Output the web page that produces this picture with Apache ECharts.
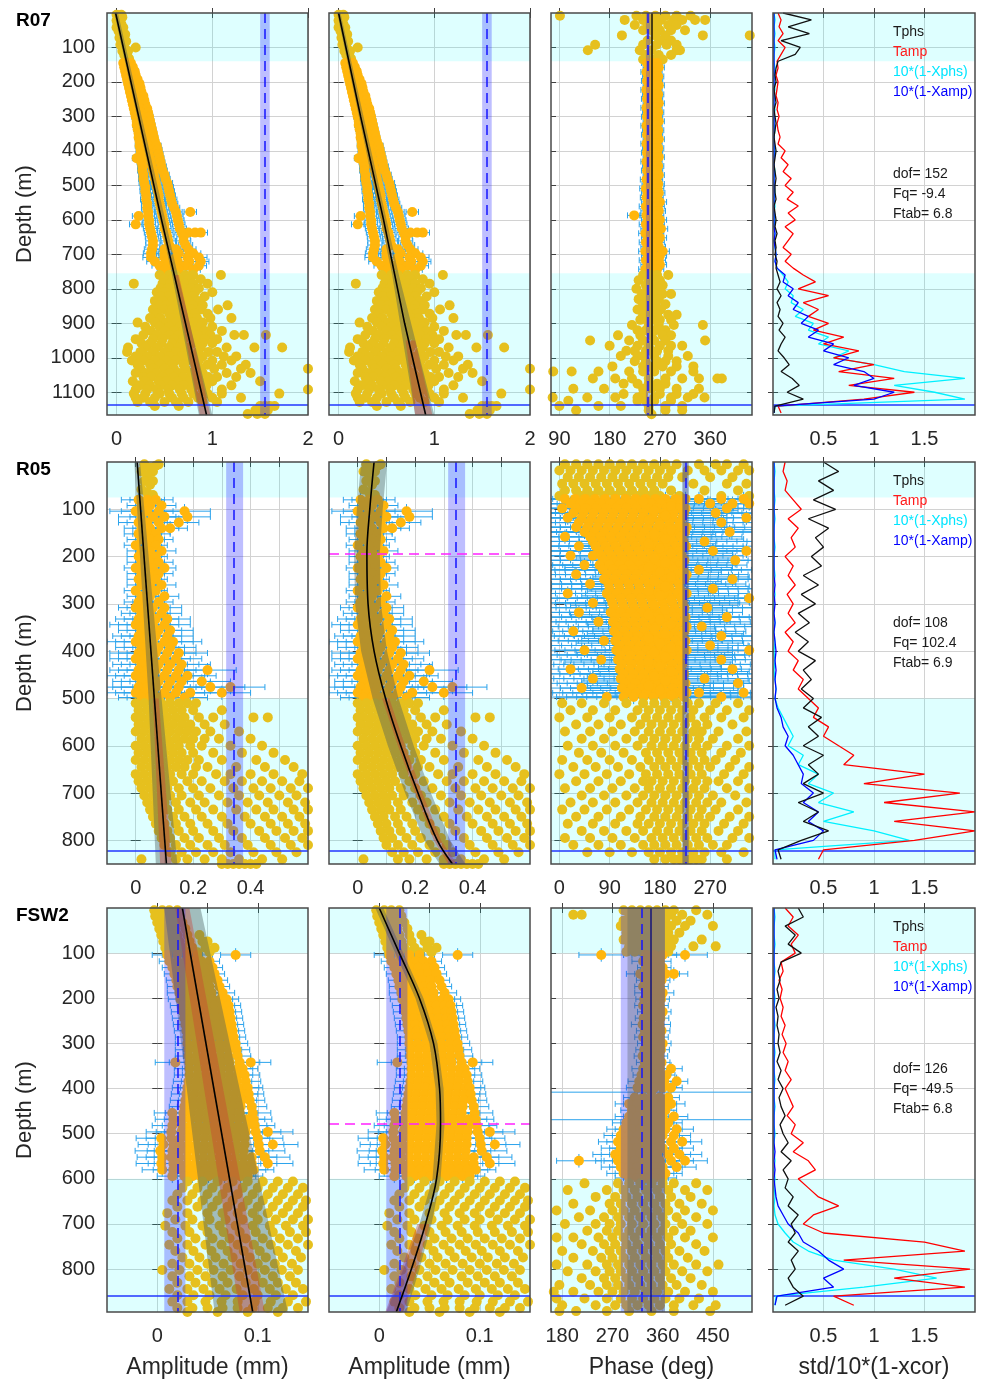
<!DOCTYPE html>
<html><head><meta charset="utf-8">
<script src="https://cdn.jsdelivr.net/npm/echarts@6/dist/echarts.min.js"></script>
<style>html,body{margin:0;padding:0;background:#fff;}#chart{width:981px;height:1381px;}</style>
</head><body><div id="chart"></div>
<script>
// ================= DATA =================
const stations=['R07','R05','FSW2'];
const depthMax=[1166,850,895];
const depthTicks=[[100,200,300,400,500,600,700,800,900,1000,1100],[100,200,300,400,500,600,700,800],[100,200,300,400,500,600,700,800]];
const ampRange=[[-0.1,2],[-0.1,0.6],[-0.05,0.15]];
const ampTicks=[[0,1,2],[0,0.1,0.2,0.3,0.4,0.5],[0,0.05,0.1]];
const ampLabels=[[0,1,2],[0,0.2,0.4],[0,0.1]];
const phsRange=[[75,435],[-15,345],[160,520]];
const phsTicks=[[90,180,270,360],[0,90,180,270],[180,270,360,450]];
const stdRange=[0,2];
const stdTicks=[0.5,1,1.5];
const xNames=['Amplitude (mm)','Amplitude (mm)','Phase (deg)','std/10*(1-xcor)'];
const cyanBands=[[[0,140],[755,1166]],[[0,75],[500,850]],[[0,100],[600,895]]];
const bottomLine=[1135,822,860];
const depthErr=[10,15,15];
const magentaDepth=[null,193,478];
const ampBlueBand=[[1.5,1.6],[0.315,0.374],[0.007,0.028]];
const ampBlueDash=[1.55,0.345,0.017];
const phsBlueBand=[[245,253],[221,231],[285,364]];
const phsGrayBand=[null,[220,232],[297,364]];
const phsDash=[249,226,322];
const phsSolid=[256,null,339];
const legendNames=['Tphs','Tamp','10*(1-Xphs)','10*(1-Xamp)'];
const statText=[['dof= 152','Fq= -9.4','Ftab= 6.8'],['dof= 108','Fq= 102.4','Ftab= 6.9'],['dof= 126','Fq= -49.5','Ftab= 6.8']];

// model fits [amp, depth]
const r07Fit1=[[-0.01,0],[0.23,300],[0.47,600],[0.72,900],[0.94,1166]];
const r07Fit2=[[0.0,0],[0.23,300],[0.47,600],[0.69,900],[0.91,1166]];
const r07Gray1L=[[-0.025,0],[0.58,760],[0.86,1166]], r07Gray1R=[[0.015,0],[0.64,760],[1.0,1166]];
const r07Red1L=[[0.6,760],[0.87,1166]], r07Red1R=[[0.65,760],[0.98,1166]];
const r07Gray2L=[[-0.015,0],[0.56,760],[0.8,1166]], r07Gray2R=[[0.02,0],[0.63,760],[1.0,1166]];
const r07Red2L=[[0.7,950],[0.8,1166]], r07Red2R=[[0.8,950],[0.98,1166]];
const r05Fit1=[[0.005,0],[0.107,850]];
const r05Gray1L=[[-0.005,0],[0.045,500],[0.07,850]], r05Gray1R=[[0.015,0],[0.09,500],[0.145,850]];
const r05Red1L=[[0.06,500],[0.085,850]], r05Red1R=[[0.08,500],[0.125,850]];
const r05Fit2=[[0.057,0],[0.042,100],[0.032,193],[0.036,300],[0.057,400],[0.097,500],[0.15,600],[0.21,700],[0.277,800],[0.33,850]];
const r05Gray2L=[[0.012,0],[-0.003,100],[-0.013,193],[-0.009,300],[0.012,400],[0.052,500],[0.105,600],[0.165,700],[0.232,800],[0.285,850]];
const r05Gray2R=[[0.102,0],[0.087,100],[0.077,193],[0.081,300],[0.102,400],[0.142,500],[0.195,600],[0.255,700],[0.322,800],[0.375,850]];
const r05Red2L=[[0.085,500],[0.14,600],[0.2,700],[0.265,800],[0.315,850]];
const r05Red2R=[[0.11,500],[0.165,600],[0.225,700],[0.29,800],[0.345,850]];
const fswFit1=[[0.025,0],[0.095,895]];
const fswGray1L=[[0.007,0],[0.057,895]], fswGray1R=[[0.043,0],[0.13,895]];
const fswRed1L=[[0.018,0],[0.082,895]], fswRed1R=[[0.032,0],[0.107,895]];
const fswFit2=[[0.0,0],[0.02,100],[0.04,200],[0.054,300],[0.06,400],[0.061,478],[0.057,600],[0.046,700],[0.032,800],[0.017,895]];
const fswGray2L=[[-0.004,0],[0.016,100],[0.036,200],[0.05,300],[0.056,400],[0.057,478],[0.053,600],[0.04,700],[0.024,800],[0.007,895]];
const fswGray2R=[[0.004,0],[0.024,100],[0.044,200],[0.058,300],[0.064,400],[0.065,478],[0.061,600],[0.052,700],[0.04,800],[0.027,895]];
const fswRed2L=[[0.038,700],[0.022,800],[0.006,895]], fswRed2R=[[0.05,700],[0.038,800],[0.024,895]];

// ---- point rows: [depth, value, value, ...]; error rows: [depth, halfwidth, value, ...]
const r07AmpTop=[[5,0.0,0.05],[12,0.02,0.06],[22,0.03,0.0],[32,0.01,0.05],[42,0.0,0.04,0.07],[52,0.02,0.06],[62,0.05,0.09],[72,0.03,0.07],[82,0.06,0.1],[92,0.04,0.08],[100,0.07,0.2],[110,0.06,0.09,0.12],[122,0.08,0.11],[132,0.1,0.13]];
const r07AmpMid=[[145,0.035,0.07,0.11,0.15],[157,0.035,0.08,0.12,0.17],[169,0.035,0.09,0.14,0.19],[181,0.035,0.1,0.15,0.2],[193,0.035,0.11,0.16,0.22],[205,0.035,0.12,0.18,0.24],[217,0.035,0.13,0.19,0.25],[229,0.035,0.14,0.2,0.26],[241,0.035,0.15,0.21,0.28],[253,0.035,0.16,0.22,0.29],[265,0.035,0.17,0.23,0.3],[277,0.035,0.18,0.25,0.32],[289,0.035,0.19,0.26,0.33],[301,0.04,0.2,0.27,0.34],[313,0.04,0.21,0.28,0.35],[325,0.04,0.21,0.28,0.36],[337,0.04,0.22,0.29,0.37],[349,0.04,0.23,0.3,0.38],[361,0.04,0.23,0.31,0.39],[373,0.04,0.24,0.32,0.4],[385,0.045,0.24,0.33,0.42],[397,0.045,0.25,0.34,0.43],[409,0.045,0.25,0.34,0.44],[421,0.045,0.21,0.26,0.35,0.45],[433,0.045,0.26,0.36,0.46],[445,0.05,0.27,0.37,0.47],[457,0.05,0.27,0.38,0.48],[469,0.05,0.28,0.39,0.5],[481,0.05,0.28,0.4,0.51],[493,0.055,0.29,0.41,0.53],[505,0.055,0.3,0.42,0.54],[517,0.055,0.3,0.43,0.55],[529,0.055,0.31,0.44,0.56],[541,0.06,0.31,0.44,0.57],[553,0.06,0.32,0.45,0.58],[565,0.06,0.32,0.46,0.6],[577,0.065,0.33,0.47,0.62,0.77],[589,0.065,0.23,0.33,0.48,0.63],[601,0.065,0.34,0.49,0.64],[613,0.065,0.2,0.34,0.5,0.65],[625,0.07,0.35,0.5,0.66],[637,0.07,0.36,0.52,0.68,0.75,0.82,0.88],[649,0.07,0.37,0.53,0.7],[661,0.075,0.38,0.54,0.7],[673,0.075,0.38,0.55,0.72],[685,0.08,0.37,0.5,0.62,0.75],[697,0.08,0.36,0.5,0.65,0.8],[709,0.085,0.36,0.5,0.62,0.74,0.86],[721,0.085,0.4,0.52,0.64,0.76,0.88],[733,0.08,0.45,0.58,0.72,0.86],[745,0.075,0.5,0.65,0.8]];
const r07AmpBot=[[760,0.45,0.55,0.62,0.72,0.8,1.09],[772,0.5,0.58,0.66,0.75,0.88],[785,0.18,0.48,0.56,0.65,0.72,0.8,0.95],[798,0.46,0.54,0.62,0.7,0.78,0.86],[810,0.42,0.5,0.6,0.68,0.76,0.82,1.0],[822,0.46,0.55,0.64,0.72,0.8,0.92],[835,0.4,0.48,0.58,0.66,0.75,0.85],[848,0.45,0.52,0.62,0.7,0.8,0.9,1.16],[860,0.38,0.5,0.58,0.68,0.78,0.88,1.06],[872,0.42,0.55,0.64,0.72,0.82,0.95],[885,0.35,0.46,0.58,0.66,0.76,0.84,0.98,1.2],[898,0.22,0.4,0.52,0.62,0.72,0.8,0.9],[910,0.3,0.45,0.55,0.66,0.76,0.88,1.0],[922,0.36,0.5,0.6,0.7,0.8,0.92,1.1],[934,0.28,0.42,0.55,0.65,0.75,0.85,0.98,1.23,1.33,1.56],[946,0.2,0.38,0.48,0.6,0.7,0.82,0.92,1.05],[958,0.26,0.35,0.47,0.58,0.68,0.8,0.9,1.0],[970,0.12,0.3,0.42,0.55,0.65,0.75,0.88,1.15,1.44,1.73],[983,0.11,0.25,0.38,0.5,0.62,0.72,0.85,0.96,1.05],[996,0.2,0.32,0.45,0.55,0.68,0.78,0.9,1.12,1.25],[1008,0.16,0.28,0.4,0.52,0.62,0.74,0.86,1.0,1.2],[1020,0.22,0.35,0.46,0.58,0.7,0.82,0.95,1.1,1.35],[1032,0.25,0.38,0.5,0.6,0.72,0.88,1.02,1.3,2.0],[1044,0.2,0.3,0.42,0.55,0.65,0.78,0.9,1.15,1.4],[1056,0.28,0.36,0.48,0.6,0.7,0.82,0.96,1.05,1.25],[1068,0.17,0.3,0.44,0.52,0.64,0.76,0.88,1.0,1.5],[1080,0.24,0.35,0.46,0.58,0.7,0.82,0.94,1.2],[1092,0.2,0.32,0.42,0.54,0.66,0.78,0.9,1.1,2.0],[1104,0.18,0.3,0.45,0.55,0.68,0.8,0.95,1.1,1.7],[1116,0.2,0.28,0.4,0.58,0.7,0.85,1.0,1.3],[1128,0.22,0.35,0.5,0.62,0.75,0.9,1.05],[1140,0.4,0.65,1.5,1.55,1.6,1.65],[1152,1.45,1.52,1.58],[1163,1.37,1.47,1.55]];
const r07PhsTop=[[8,91,228,245,262,280,300,325],[20,207,240,255,272,294,310,333,351],[35,225,248,265,285,300],[50,240,255,270,290,315],[65,202,262,280,347,431],[80,248,270,290],[92,154,240,264,282,300],[108,141,234,255,300,306],[122,245,268,290],[135,240,258,275]];
const r07PhsMid=[[145,10,247,256,265],[158,10,250,259,268],[171,10,246,255,264],[184,10,249,258,267],[197,10,247,256,265],[210,10,250,259,268],[223,10,246,255,264],[236,10,249,258,267],[249,10,247,256,265],[262,10,250,259,268],[275,10,246,255,264],[288,10,249,258,267],[301,10,247,256,265],[314,10,250,259,268],[327,10,246,255,264],[340,10,249,258,267],[353,10,247,256,265],[366,10,250,259,268],[379,10,246,255,264],[392,10,249,258,267],[405,10,247,256,265],[418,10,250,259,268],[431,10,246,255,264],[444,10,249,258,267],[457,10,247,256,265],[470,10,250,259,268],[483,11,246,255,264],[496,11,249,258,267],[509,11,245,255,266],[522,11,248,258,268],[535,11,246,256,265],[548,12,249,259,270],[561,12,245,255,266],[574,12,248,258,268],[587,12,224,246,256,265],[600,12,249,259,270],[613,12,245,255,266],[626,12,248,258,272],[639,12,244,256,265],[652,12,249,259,270],[665,12,245,255,266],[678,12,248,258,268],[691,12,244,256,275],[704,12,249,259,270],[717,12,245,255,268],[730,12,248,258,270],[743,12,244,256,265]];
const r07PhsBot=[[760,240,255,265,285],[775,250,262,270,232],[790,245,262,275],[800,228,255,268,248],[815,238,250,260,275,290],[830,245,255,268,232],[845,248,262,280,240],[860,230,245,258,272],[875,240,252,265,285,300],[890,235,255,270,290,248],[905,220,250,268,295,347],[920,230,245,262,280,270],[935,195,235,255,275,290],[950,145,215,240,260,280,351],[965,180,230,250,270,290,310],[980,210,225,245,255,265,285],[995,200,240,260,285,320,230],[1010,225,245,265,300,280],[1025,185,240,250,260,275,300,330],[1040,79,112,160,215,240,260,290,330],[1060,150,190,220,250,280,310,340,373,381],[1075,205,230,250,265,280],[1090,115,170,240,255,270,300,340],[1105,205,240,270,300,330],[1115,78,140,190,230,260,290,320,350],[1125,106,230,245,260,290],[1140,90,160,200,250,280,310],[1152,120,250,280,310],[1164,255]];

const r05AmpTop=[[5,0.03,0.08],[12,0.05],[8,0.07],[20,0.02,0.06],[28,0.04],[40,0.03,0.06],[48,0.05],[58,0.02],[65,0.04],[70,0.06]];
const r05AmpMid=[[80,0.06,0.01,0.04,0.07],[92,0.05,0.02,0.05,0.09],[104,0.09,0.0,0.04,0.08,0.17],[116,0.08,0.02,0.06,0.1,0.18],[128,0.07,0.01,0.04,0.08,0.15],[140,0.06,0.02,0.05,0.09,0.12],[152,0.05,0.01,0.04,0.07],[164,0.05,0.02,0.05,0.08],[176,0.04,0.0,0.04,0.07],[188,0.05,0.02,0.05,0.09],[200,0.04,0.01,0.04,0.07],[212,0.05,0.02,0.05,0.08],[224,0.04,0.0,0.03,0.06,0.1],[236,0.05,0.02,0.05,0.08],[248,0.04,0.01,0.04,0.07],[260,0.05,0.02,0.05,0.09],[272,0.04,0.0,0.04,0.07],[284,0.05,0.02,0.05,0.1],[296,0.05,0.01,0.04,0.08],[308,0.06,0.0,0.03,0.06,0.1],[320,0.07,0.02,0.05,0.09],[332,0.08,0.01,0.04,0.07,0.11],[344,0.09,0.0,0.03,0.06,0.1],[356,0.08,0.02,0.05,0.08,0.12],[368,0.09,0.01,0.04,0.07,0.11],[380,0.1,0.0,0.03,0.06,0.1,0.13],[392,0.09,0.02,0.05,0.08,0.12],[404,0.1,0.01,0.04,0.07,0.11,0.15],[416,0.09,0.0,0.03,0.06,0.1,0.14],[428,0.1,0.02,0.05,0.08,0.12,0.16],[440,0.1,0.01,0.04,0.07,0.11,0.15,0.25],[452,0.1,0.0,0.03,0.06,0.1,0.14,0.18],[464,0.1,0.02,0.05,0.08,0.12,0.16,0.23],[476,0.12,0.01,0.04,0.07,0.11,0.15,0.26,0.33],[488,0.1,0.0,0.03,0.06,0.1,0.14,0.19,0.3],[498,0.08,0.02,0.05,0.08,0.12,0.17]];
const r05AmpBot=[[510,0.0,0.03,0.06,0.09,0.12,0.15,0.18,0.21],[525,0.01,0.04,0.07,0.1,0.13,0.16,0.2,0.3],[540,0.0,0.02,0.05,0.08,0.11,0.14,0.17,0.22,0.27,0.41,0.46],[555,0.01,0.04,0.07,0.1,0.13,0.16,0.19,0.24,0.31],[570,0.0,0.03,0.06,0.09,0.12,0.15,0.18,0.21,0.26,0.36],[585,0.02,0.05,0.08,0.11,0.14,0.17,0.2,0.24,0.29,0.4],[600,0.0,0.03,0.06,0.09,0.12,0.15,0.19,0.23,0.33,0.44],[615,0.01,0.04,0.07,0.1,0.13,0.16,0.2,0.27,0.37,0.48],[630,0.0,0.03,0.06,0.09,0.12,0.15,0.18,0.22,0.3,0.42,0.52],[645,0.02,0.05,0.08,0.11,0.14,0.17,0.21,0.25,0.35,0.45,0.55],[660,0.0,0.03,0.06,0.09,0.12,0.16,0.2,0.28,0.33,0.4,0.48,0.58],[675,0.01,0.04,0.07,0.1,0.13,0.18,0.23,0.31,0.37,0.44,0.51,0.57],[690,0.02,0.05,0.08,0.11,0.15,0.2,0.26,0.34,0.41,0.47,0.54,0.6],[705,0.03,0.06,0.09,0.12,0.16,0.22,0.29,0.36,0.43,0.5,0.56],[720,0.04,0.07,0.1,0.14,0.19,0.24,0.32,0.39,0.46,0.53,0.59],[735,0.05,0.08,0.11,0.15,0.21,0.27,0.35,0.42,0.48,0.55,0.6],[750,0.06,0.09,0.13,0.17,0.23,0.3,0.38,0.45,0.51,0.57],[765,0.07,0.1,0.14,0.19,0.25,0.32,0.4,0.47,0.53,0.59],[780,0.08,0.11,0.15,0.2,0.27,0.34,0.43,0.49,0.55,0.6],[795,0.09,0.12,0.17,0.22,0.29,0.37,0.45,0.52,0.58],[810,0.1,0.14,0.19,0.25,0.31,0.39,0.47,0.54,0.6],[825,0.12,0.16,0.21,0.27,0.33,0.41,0.49,0.56],[840,0.02,0.14,0.18,0.24,0.3,0.36,0.44,0.51],[850,0.3,0.32,0.34,0.36,0.38,0.4,0.42]];
const r05PhsTop=[[5,10,30,50,70,90,110,130,150,170,190,210,250,280,300,330],[18,0,20,40,60,80,100,120,140,160,180,200,230,260,290,320,340],[32,15,35,55,75,95,115,135,155,175,195,220,270,310],[46,5,25,45,65,85,105,125,145,165,185,240,300,335],[60,10,30,50,70,90,110,130,150,170,200,260,320],[72,0,40,60,80,100,120,140,160,180,215,290,340]];
const r05PhsMid=[[78,130,10,28,46,64,82,100,118,136,154,172,190,208,226,250,290,330],[88,150,20,38,56,74,92,110,128,146,164,182,200,218,270,310,340],[98,120,5,30,48,66,84,102,120,138,156,174,192,210,226,300],[108,140,25,43,61,79,97,115,133,151,169,187,205,223,280],[118,110,15,40,58,76,94,112,130,148,166,184,202,220,335],[128,150,35,53,71,89,107,125,143,161,179,197,215,290],[138,120,30,50,68,86,104,122,140,158,176,194,212,228],[148,140,45,63,81,99,117,135,153,171,189,207,225,305],[158,110,10,55,73,91,109,127,145,163,181,199,217],[168,150,60,78,96,114,132,150,168,186,204,222,260],[178,120,35,65,83,101,119,137,155,173,191,209,227],[188,140,70,88,106,124,142,160,178,196,214,275,335],[198,110,20,60,75,93,111,129,147,165,183,201,219],[208,150,80,98,116,134,152,170,188,206,224,315],[218,120,45,72,90,108,126,144,162,180,198,216],[228,140,78,96,114,132,150,168,186,204,222,250],[238,110,30,85,103,121,139,157,175,193,211,228],[248,150,80,98,116,134,152,170,188,206,224,310],[258,120,55,88,106,124,142,160,178,196,214],[268,140,90,108,126,144,162,180,198,216,275],[278,110,15,85,103,121,139,157,175,193,211,228],[288,150,92,110,128,146,164,182,200,218,340],[298,120,60,95,113,131,149,167,185,203,221],[308,140,98,116,134,152,170,188,206,224,265],[318,110,35,92,110,128,146,164,182,200,218],[328,150,100,118,136,154,172,190,208,226,300],[338,120,70,96,114,132,150,168,186,204,222],[348,140,102,120,138,156,174,192,210,228,255],[358,110,25,98,116,134,152,170,188,206,224],[368,150,105,123,141,159,177,195,213,290],[378,120,80,100,118,136,154,172,190,208,226],[388,140,108,126,144,162,180,198,216,270],[398,110,45,102,120,138,156,174,192,210,228,340],[408,150,110,128,146,164,182,200,218],[418,120,75,105,123,141,159,177,195,213,290],[428,140,112,130,148,166,184,202,220],[438,110,20,108,126,144,162,180,198,216,310],[448,150,115,133,151,169,187,205,223],[458,120,60,110,128,146,164,182,200,218,260],[468,140,118,136,154,172,190,208,226,320],[478,110,40,112,130,148,166,184,202,220],[488,150,120,138,156,174,192,210,228,250,330],[497,120,85,115,133,151,169,187,205,223,290],[83,140,150],[93,120,200],[103,150,170],[113,110,190],[123,140,160],[133,120,180],[143,150,200],[153,110,170],[163,140,190],[173,120,160],[183,150,180],[193,110,200],[203,140,170],[213,120,190],[223,150,160],[233,110,180],[243,140,200],[253,120,170],[263,150,190],[273,110,160],[283,140,180],[293,120,200],[303,150,170],[313,110,190],[323,140,160],[333,120,180],[343,150,200],[353,110,170],[363,140,190],[373,120,160],[383,150,180],[393,110,200],[403,140,170],[413,120,190],[423,150,160],[433,110,180],[443,140,200],[453,120,170],[463,150,190],[473,110,160],[483,140,180],[493,120,200]];
const r05PhsBot=[[510,5,40,80,120,150,170,190,210,230,250,280,320],[525,20,60,100,140,160,180,200,220,240,270,300,340],[540,0,50,90,130,155,175,195,215,235,260,290,330],[555,30,70,110,145,165,185,205,225,245,265,310],[570,10,55,95,135,160,180,200,220,240,255,285,335],[585,40,80,120,150,170,190,210,230,250,275,320],[600,15,60,100,140,165,185,205,225,245,265,300,340],[615,35,75,115,155,175,195,215,235,255,290,325],[630,5,50,90,130,160,180,200,220,240,260,280,315],[645,25,65,105,145,170,190,210,230,250,270,305,340],[660,0,45,85,125,155,175,195,215,235,255,295,330],[675,30,70,110,150,165,185,205,225,245,265,285,320],[690,10,55,95,135,160,180,200,220,240,260,300,340],[705,40,80,120,150,170,190,210,230,250,275,315],[720,20,60,100,140,165,185,205,225,245,265,290,335],[735,5,45,85,125,155,175,195,215,235,255,280,320],[750,30,70,110,145,170,190,210,230,250,270,305,340],[765,15,60,100,140,160,180,200,220,240,260,295,330],[780,40,80,120,150,175,195,215,235,255,285,320],[795,10,55,95,135,165,185,205,225,245,265,310,340],[810,25,70,110,150,170,190,210,230,250,275,300],[825,50,90,130,160,180,200,220,240,260,290,330],[840,170,190,205,215,225,235,245,255,300]];

const fswAmpTop=[[5,-0.003,0.005,0.012,0.02],[18,-0.002,0.006,0.014,0.022],[32,0.0,0.008,0.016,0.025],[46,0.002,0.01,0.018,0.028],[60,0.004,0.012,0.02,0.03,0.042],[74,0.006,0.014,0.022,0.032,0.045,0.05],[88,0.008,0.016,0.025,0.035,0.048,0.057],[98,0.01,0.02,0.03,0.04,0.052]];
const fswAmpMid=[[104,0.015,0.01,0.02,0.03,0.04,0.078],[118,0.01,0.012,0.02,0.028,0.036,0.044,0.052],[132,0.01,0.015,0.023,0.031,0.039,0.047,0.055],[146,0.01,0.017,0.025,0.033,0.041,0.049,0.057],[160,0.01,0.019,0.027,0.035,0.043,0.051,0.06],[174,0.01,0.02,0.028,0.036,0.044,0.052,0.062],[188,0.012,0.022,0.03,0.038,0.046,0.054,0.065],[202,0.012,0.023,0.031,0.039,0.047,0.055,0.063,0.069],[216,0.012,0.025,0.033,0.041,0.049,0.057,0.065,0.071],[230,0.012,0.026,0.034,0.042,0.05,0.058,0.066,0.072],[244,0.012,0.027,0.035,0.043,0.051,0.059,0.067,0.073],[258,0.012,0.028,0.036,0.044,0.052,0.06,0.068,0.074],[272,0.012,0.029,0.037,0.045,0.053,0.061,0.069,0.075],[286,0.012,0.03,0.038,0.046,0.054,0.062,0.07,0.076],[300,0.012,0.03,0.038,0.046,0.054,0.062,0.07,0.078],[314,0.013,0.031,0.039,0.047,0.055,0.063,0.071,0.079],[328,0.013,0.031,0.039,0.047,0.055,0.063,0.071,0.08],[342,0.02,0.018,0.032,0.04,0.048,0.056,0.064,0.072,0.082,0.093],[356,0.015,0.032,0.04,0.048,0.056,0.064,0.072,0.08,0.085],[370,0.015,0.032,0.04,0.048,0.056,0.064,0.072,0.08,0.087],[384,0.015,0.031,0.039,0.047,0.055,0.063,0.071,0.079,0.088],[398,0.015,0.03,0.038,0.046,0.054,0.062,0.07,0.078,0.086,0.09],[412,0.015,0.029,0.037,0.045,0.053,0.061,0.069,0.077,0.085,0.091],[426,0.015,0.028,0.036,0.044,0.052,0.06,0.068,0.076,0.084,0.092],[440,0.015,0.027,0.035,0.043,0.051,0.059,0.067,0.075,0.083,0.094],[454,0.018,0.015,0.026,0.034,0.042,0.05,0.058,0.066,0.074,0.082,0.095],[468,0.018,0.016,0.025,0.033,0.041,0.049,0.057,0.065,0.073,0.081,0.089,0.096],[482,0.02,0.015,0.025,0.033,0.041,0.049,0.057,0.065,0.073,0.081,0.089,0.097],[496,0.025,0.014,0.024,0.032,0.04,0.048,0.056,0.064,0.072,0.08,0.088,0.098,0.11],[510,0.025,0.004,0.014,0.023,0.031,0.039,0.047,0.055,0.063,0.071,0.079,0.087,0.1],[524,0.025,0.006,0.016,0.023,0.031,0.039,0.047,0.055,0.063,0.071,0.079,0.087,0.101,0.115],[538,0.025,0.003,0.015,0.022,0.03,0.038,0.046,0.054,0.062,0.07,0.078,0.086,0.102],[552,0.025,0.005,0.014,0.022,0.03,0.038,0.046,0.054,0.062,0.07,0.078,0.086,0.094,0.107],[566,0.025,0.004,0.016,0.022,0.03,0.038,0.046,0.054,0.062,0.07,0.078,0.086,0.094,0.11],[580,0.02,0.005,0.016,0.024,0.032,0.04,0.048,0.056,0.064,0.072,0.08,0.088,0.096],[594,0.015,0.015,0.027,0.035,0.043,0.051,0.059,0.067,0.075,0.083,0.09]];
const fswAmpBot=[[606,0.03,0.045,0.06,0.075,0.09,0.105,0.12,0.135],[620,0.025,0.04,0.055,0.07,0.085,0.1,0.115,0.13,0.145],[634,0.02,0.035,0.05,0.065,0.08,0.095,0.11,0.125,0.14],[648,0.015,0.03,0.045,0.06,0.075,0.09,0.105,0.12,0.135,0.148],[662,0.02,0.04,0.055,0.07,0.085,0.1,0.115,0.13,0.145],[676,0.01,0.03,0.05,0.065,0.08,0.095,0.11,0.125,0.14],[690,0.018,0.035,0.052,0.068,0.085,0.1,0.118,0.135,0.15],[704,0.008,0.028,0.045,0.062,0.078,0.095,0.112,0.128,0.145],[718,0.015,0.032,0.05,0.066,0.082,0.098,0.115,0.132,0.148],[732,0.02,0.038,0.055,0.072,0.088,0.105,0.122,0.14],[746,0.012,0.03,0.048,0.064,0.08,0.096,0.113,0.13,0.15],[760,0.018,0.036,0.054,0.07,0.086,0.102,0.12,0.138],[774,0.025,0.042,0.058,0.075,0.092,0.108,0.125,0.143],[788,0.015,0.032,0.05,0.066,0.083,0.1,0.117,0.134],[802,0.005,0.022,0.04,0.056,0.073,0.09,0.107,0.124,0.14],[816,0.015,0.032,0.048,0.065,0.082,0.098,0.115,0.132],[830,0.02,0.038,0.055,0.07,0.088,0.105,0.12,0.138],[844,0.012,0.03,0.046,0.062,0.079,0.096,0.112,0.128,0.145],[858,0.02,0.036,0.052,0.068,0.085,0.1,0.118,0.135],[872,0.015,0.03,0.048,0.064,0.08,0.097,0.113,0.13,0.148],[886,0.02,0.035,0.05,0.065,0.08,0.095,0.11,0.125,0.14],[895,0.03,0.06,0.09,0.12]];
const fswPhsTop=[[5,290,305,320,335,350,365,380,420],[15,200,215,300,315,330,345,360,375,395,440],[28,290,305,320,335,350,365,385,410],[40,285,300,315,330,345,360,375,400,450],[55,295,310,325,340,355,370,390],[70,290,305,320,335,350,365,380,430],[85,300,315,330,345,360,375,415,455],[97,295,310,325,340,355,370]];
const fswPhsMid=[[104,40,250,330,345,360,400],[118,20,325,340,355],[132,15,330,345,360],[146,25,320,335,350,365,380],[160,15,328,343,358],[174,15,325,340,355],[188,20,330,345,360],[202,15,327,342,357],[216,15,325,340,355],[230,15,330,345,360],[244,15,326,341,356],[258,20,324,339,354],[272,15,328,343,358],[286,15,325,340,355],[300,15,330,345,360],[314,15,327,342,357],[328,15,324,339,354],[342,15,328,343,358],[356,20,325,340,355,375],[370,15,322,337,352,367],[384,20,318,333,348,363,385],[398,20,315,330,345,360,375],[408,200,340],[420,20,310,325,340,355,370],[434,25,300,315,330,345,360,375],[448,20,305,320,335,350,365],[462,25,300,315,330,345,360,380],[469,200,330],[476,25,295,310,325,340,355,370],[490,30,290,305,320,335,350,365,385],[504,30,285,300,315,330,345,360,380],[518,35,280,295,310,325,340,355,375,395],[532,35,285,300,315,330,345,360,380],[546,40,275,290,305,320,335,350,370,390],[560,40,210,280,295,310,325,340,355,375,400],[574,35,285,300,315,330,345,360,385],[588,30,290,305,320,335,350,365],[598,25,300,315,330,345,360]];
const fswPhsBot=[[610,220,280,300,320,340,360,380,420],[625,190,260,290,310,330,350,370,400,440],[640,240,275,295,315,335,355,375,410],[655,200,265,285,305,325,345,365,390,430],[670,170,230,270,290,310,330,350,370,400,450],[685,210,255,280,300,320,340,360,385,420],[700,185,240,265,285,305,325,345,365,395,440],[715,225,260,280,300,320,340,360,380,410],[730,170,200,245,270,290,310,330,350,370,400,450],[745,215,255,275,295,315,335,355,375,420],[760,180,235,265,285,305,325,345,365,390,435],[775,200,250,270,290,310,330,350,370,405],[790,170,225,260,280,300,320,340,360,380,420,460],[805,190,240,265,285,305,325,345,365,395,440],[820,215,255,275,295,315,335,355,375,410],[835,175,230,260,280,300,320,340,360,385,430],[850,165,200,245,270,290,310,330,350,370,400,450],[865,170,220,260,285,305,325,345,365,390,425],[880,180,240,275,295,315,335,355,380,415,455],[893,175,205,260,300,340,380,445]];

// std / 10*(1-xcor) profiles
const r07Depth=[0,20,40,60,80,100,120,140,160,180,200,220,240,260,280,300,320,340,360,380,400,420,440,460,480,500,520,540,560,580,600,620,640,660,680,700,720,740,760,780,800,820,840,860,880,900,920,940,960,980,1000,1020,1040,1060,1080,1100,1120,1140,1160];
const r07Tphs=[0.1,0.38,0.15,0.36,0.08,0.27,0.22,0.05,0.03,0.02,0.03,0.01,0.02,0.03,0.01,0.02,0.03,0.02,0.01,0.02,0.03,0.02,0.01,0.02,0.03,0.02,0.02,0.03,0.01,0.02,0.03,0.02,0.04,0.02,0.03,0.02,0.04,0.03,0.05,0.07,0.04,0.08,0.04,0.07,0.05,0.1,0.06,0.12,0.08,0.05,0.11,0.16,0.08,0.19,0.26,0.14,0.3,0.02,0.01];
const r07Tamp=[0.05,0.08,0.06,0.1,0.05,0.12,0.08,0.04,0.05,0.03,0.05,0.04,0.03,0.05,0.04,0.06,0.04,0.05,0.07,0.05,0.12,0.08,0.15,0.1,0.18,0.12,0.2,0.14,0.25,0.15,0.22,0.12,0.2,0.15,0.1,0.18,0.12,0.2,0.3,0.42,0.25,0.55,0.3,0.45,0.35,0.55,0.4,0.7,0.5,0.85,0.6,1.0,0.65,1.2,0.75,1.4,0.9,0.05,0.08];
const r07Xphs=[0.01,0.02,0.01,0.02,0.01,0.02,0.01,0.01,0.02,0.01,0.01,0.02,0.01,0.01,0.02,0.01,0.01,0.02,0.01,0.01,0.02,0.01,0.01,0.02,0.01,0.01,0.02,0.01,0.02,0.01,0.02,0.01,0.02,0.01,0.02,0.03,0.02,0.04,0.1,0.15,0.12,0.2,0.18,0.3,0.22,0.4,0.35,0.55,0.45,0.75,0.6,1.0,1.3,1.9,1.2,1.6,1.9,0.02,0.01];
const r07Xamp=[0.01,0.01,0.01,0.01,0.01,0.01,0.01,0.01,0.01,0.01,0.01,0.01,0.01,0.01,0.01,0.01,0.01,0.01,0.01,0.01,0.01,0.01,0.01,0.01,0.01,0.01,0.01,0.01,0.01,0.01,0.01,0.01,0.02,0.01,0.02,0.03,0.02,0.04,0.12,0.1,0.2,0.15,0.25,0.2,0.35,0.28,0.45,0.35,0.6,0.5,0.75,0.6,0.9,1.0,0.8,1.2,1.0,0.01,0.01];
const r05Depth=[0,20,40,60,80,100,120,140,160,180,200,220,240,260,280,300,320,340,360,380,400,420,440,460,480,500,520,540,560,580,600,620,640,660,680,700,720,740,760,780,800,820,840];
const r05Tphs=[0.5,0.65,0.45,0.6,0.4,0.62,0.35,0.55,0.42,0.5,0.38,0.48,0.3,0.45,0.28,0.42,0.25,0.36,0.22,0.35,0.25,0.42,0.3,0.38,0.28,0.4,0.3,0.48,0.35,0.45,0.3,0.5,0.35,0.45,0.3,0.5,0.25,0.45,0.3,0.55,0.28,0.05,0.08];
const r05Tamp=[0.12,0.1,0.14,0.12,0.2,0.28,0.15,0.25,0.18,0.22,0.12,0.2,0.15,0.22,0.14,0.2,0.15,0.22,0.12,0.2,0.15,0.25,0.2,0.3,0.25,0.35,0.45,0.4,0.55,0.5,0.65,0.8,0.7,1.5,0.9,1.85,1.1,2.0,1.2,2.0,1.4,0.5,0.45];
const r05Xphs=[0.01,0.02,0.01,0.01,0.02,0.01,0.02,0.01,0.01,0.02,0.01,0.01,0.02,0.01,0.02,0.01,0.01,0.02,0.01,0.02,0.01,0.02,0.01,0.02,0.03,0.02,0.05,0.1,0.15,0.2,0.15,0.3,0.25,0.45,0.35,0.6,0.45,0.8,0.5,1.0,1.35,0.02,0.02];
const r05Xamp=[0.01,0.01,0.01,0.01,0.01,0.01,0.01,0.01,0.01,0.01,0.01,0.01,0.01,0.02,0.01,0.02,0.01,0.02,0.01,0.02,0.03,0.02,0.03,0.02,0.03,0.02,0.04,0.08,0.1,0.15,0.12,0.2,0.25,0.3,0.28,0.4,0.3,0.45,0.35,0.5,0.4,0.02,0.04];
const fswDepth=[0,20,40,60,80,100,120,140,160,180,200,220,240,260,280,300,320,340,360,380,400,420,440,460,480,500,520,540,560,580,600,620,640,660,680,700,720,740,760,780,800,820,840,860,880];
const fswTphs=[0.25,0.3,0.12,0.22,0.15,0.28,0.08,0.05,0.07,0.04,0.06,0.03,0.05,0.04,0.06,0.05,0.07,0.04,0.08,0.05,0.1,0.06,0.08,0.12,0.07,0.1,0.15,0.08,0.18,0.1,0.15,0.12,0.2,0.15,0.25,0.18,0.22,0.15,0.25,0.18,0.22,0.15,0.2,0.3,0.12];
const fswTamp=[0.12,0.2,0.15,0.25,0.18,0.22,0.08,0.1,0.06,0.09,0.07,0.1,0.08,0.12,0.09,0.13,0.1,0.15,0.12,0.18,0.12,0.16,0.2,0.14,0.22,0.18,0.3,0.2,0.35,0.42,0.25,0.35,0.45,0.65,0.4,0.3,0.5,1.5,1.9,0.7,1.95,1.2,1.9,0.6,0.8];
const fswXphs=[0.01,0.02,0.01,0.01,0.02,0.01,0.01,0.02,0.01,0.01,0.02,0.01,0.01,0.02,0.01,0.01,0.02,0.01,0.01,0.02,0.01,0.01,0.02,0.01,0.01,0.02,0.01,0.01,0.02,0.01,0.02,0.01,0.02,0.01,0.02,0.05,0.12,0.2,0.35,0.6,1.2,1.62,0.9,0.03,0.02];
const fswXamp=[0.01,0.01,0.01,0.01,0.01,0.01,0.01,0.01,0.01,0.01,0.01,0.01,0.01,0.01,0.01,0.01,0.01,0.01,0.01,0.01,0.01,0.01,0.01,0.01,0.01,0.01,0.01,0.02,0.01,0.02,0.01,0.02,0.03,0.05,0.1,0.15,0.25,0.3,0.45,0.55,0.7,0.5,0.6,0.04,0.02];

// ================= BUILD =================
const ampTopRows=[r07AmpTop,r05AmpTop,fswAmpTop], ampMidRows=[r07AmpMid,r05AmpMid,fswAmpMid], ampBotRows=[r07AmpBot,r05AmpBot,fswAmpBot];
const phsTopRows=[r07PhsTop,r05PhsTop,fswPhsTop], phsMidRows=[r07PhsMid,r05PhsMid,fswPhsMid], phsBotRows=[r07PhsBot,r05PhsBot,fswPhsBot];
const fits=[[r07Fit1,r07Fit2],[r05Fit1,r05Fit2],[fswFit1,fswFit2]];
const grays=[[[r07Gray1L,r07Gray1R],[r07Gray2L,r07Gray2R]],[[r05Gray1L,r05Gray1R],[r05Gray2L,r05Gray2R]],[[fswGray1L,fswGray1R],[fswGray2L,fswGray2R]]];
const reds=[[[r07Red1L,r07Red1R],[r07Red2L,r07Red2R]],[[r05Red1L,r05Red1R],[r05Red2L,r05Red2R]],[[fswRed1L,fswRed1R],[fswRed2L,fswRed2R]]];
const profDepth=[r07Depth,r05Depth,fswDepth];
const profiles=[[r07Tphs,r07Tamp,r07Xphs,r07Xamp],[r05Tphs,r05Tamp,r05Xphs,r05Xamp],[fswTphs,fswTamp,fswXphs,fswXamp]];

const FONT='"Liberation Sans", Arial, Helvetica, sans-serif';
const TXT='#262626';
const colLeft=[107,329,551,773], colW=[201,201,201,202];
const rowTop=[13,462,908], rowH=[402,402,404];
const GOLD='#E6C01E', ORANGE='#FFB60D', ERR='#2BA3EC';
const profColors=['#111111','#FF0000','#00F0FF','#0000FF'];
const legendColors=['#1a1a1a','#FF1a1a','#00E5FF','#0000FF'];

function pts(rows){const o=[];rows.forEach(r=>{for(let i=1;i<r.length;i++)o.push([r[i],r[0]]);});return o;}
function errPts(rows){const o=[];rows.forEach(r=>{for(let i=2;i<r.length;i++)o.push([r[i],r[0],r[1]]);});return o;}
function zip(vals,dep){const o=[];for(let i=0;i<dep.length&&i<vals.length;i++)o.push([vals[i],dep[i]]);return o;}

const grids=[],xAxes=[],yAxes=[],series=[],graphics=[];
function numFmt(v){return String(+(+v).toFixed(4));}

function addPanel(r,c){
  const gi=grids.length;
  let xr,xt,xl;
  if(c<2){xr=ampRange[r];xt=ampTicks[r];xl=ampLabels[r];}
  else if(c===2){xr=phsRange[r];xt=phsTicks[r];xl=phsTicks[r];}
  else {xr=stdRange;xt=stdTicks;xl=stdTicks;}
  grids.push({left:colLeft[c],top:rowTop[r],width:colW[c],height:rowH[r],show:true,borderColor:'#4a4a4a',borderWidth:1.5,backgroundColor:'transparent',z:30});
  const tick={show:true,inside:true,length:5,lineStyle:{color:'#404040',width:1}};
  xAxes.push({type:'value',gridIndex:gi,position:'bottom',min:xr[0],max:xr[1],
    axisLine:{show:false},axisTick:Object.assign({customValues:xt},tick),
    axisLabel:{show:true,customValues:xl,margin:14,fontSize:20,color:TXT,fontFamily:FONT,formatter:numFmt},
    splitLine:{show:true,lineStyle:{color:'#d2d2d2',width:1}},
    name:r===2?xNames[c]:'',nameLocation:'middle',nameGap:44,nameTextStyle:{fontSize:23,color:TXT,fontFamily:FONT}});
  xAxes.push({type:'value',gridIndex:gi,position:'top',min:xr[0],max:xr[1],axisLine:{show:false},
    axisTick:Object.assign({customValues:xt},tick),axisLabel:{show:false},splitLine:{show:false}});
  yAxes.push({type:'value',gridIndex:gi,position:'left',inverse:true,min:0,max:depthMax[r],
    axisLine:{show:false},axisTick:Object.assign({customValues:depthTicks[r]},tick),
    axisLabel:{show:c===0,customValues:depthTicks[r],margin:12,fontSize:20,color:TXT,fontFamily:FONT,formatter:numFmt},
    splitLine:{show:true,lineStyle:{color:'#d2d2d2',width:1}},
    name:c===0?'Depth (m)':'',nameLocation:'middle',nameRotate:90,nameGap:71,nameTextStyle:{fontSize:22,color:TXT,fontFamily:FONT}});
  yAxes.push({type:'value',gridIndex:gi,position:'right',inverse:true,min:0,max:depthMax[r],axisLine:{show:false},
    axisTick:Object.assign({customValues:depthTicks[r]},tick),axisLabel:{show:false},splitLine:{show:false}});
  return 2*gi;
}

function bgSeries(ai,bands){return {type:'line',xAxisIndex:ai,yAxisIndex:ai,data:[],silent:true,z:1,
  markArea:{silent:true,itemStyle:{color:'rgba(0,255,255,0.13)'},data:bands.map(b=>[{yAxis:b[0]},{yAxis:b[1]}])}};}
function errSeries(ai,data,ye){return {type:'custom',xAxisIndex:ai,yAxisIndex:ai,z:2,silent:true,clip:true,data,
  encode:{x:0,y:1},
  renderItem:(p,api)=>{const x=api.value(0),y=api.value(1),e=api.value(2);
    const a=api.coord([x-e,y]),b=api.coord([x+e,y]),c=api.coord([x,y-ye]),d=api.coord([x,y+ye]);
    const st=()=>({stroke:ERR,lineWidth:1});
    return {type:'group',children:[
      {type:'line',shape:{x1:a[0],y1:a[1],x2:b[0],y2:b[1]},style:st()},
      {type:'line',shape:{x1:a[0],y1:a[1]-3,x2:a[0],y2:a[1]+3},style:st()},
      {type:'line',shape:{x1:b[0],y1:b[1]-3,x2:b[0],y2:b[1]+3},style:st()},
      {type:'line',shape:{x1:c[0],y1:c[1],x2:d[0],y2:d[1]},style:st()}]};}};}
function dotSeries(ai,data,color){return {type:'scatter',xAxisIndex:ai,yAxisIndex:ai,data,symbolSize:10,z:3,silent:true,clip:true,
  itemStyle:{color,opacity:1,borderWidth:0}};}
function polySeries(ai,L,R,color,z){const poly=L.concat(R.slice().reverse());
  return {type:'custom',xAxisIndex:ai,yAxisIndex:ai,z:z||4,silent:true,clip:true,data:[poly[0]],encode:{x:0,y:1},
    renderItem:(p,api)=>({type:'polygon',shape:{points:poly.map(q=>api.coord(q))},style:{fill:color}})};}
function lineSeries(ai,data,color,w,z,smooth){return {type:'line',xAxisIndex:ai,yAxisIndex:ai,data,showSymbol:false,symbol:'none',
  smooth:smooth?0.35:false,z:z||6,silent:true,clip:true,lineStyle:{color,width:w}};}
function refSeries(ai,lines){return {type:'line',xAxisIndex:ai,yAxisIndex:ai,data:[],silent:true,z:5,
  markLine:{silent:true,symbol:['none','none'],label:{show:false},animation:false,data:lines}};}
function vband(ai,r,band,color){return polySeries(ai,[[band[0],0],[band[0],depthMax[r]]],[[band[1],0],[band[1],depthMax[r]]],color,4);}

for(let r=0;r<3;r++){
  const hl={yAxis:bottomLine[r],lineStyle:{color:'#2236FF',width:1.5,type:'solid'}};
  for(let c=0;c<2;c++){
    const ai=addPanel(r,c);
    series.push(bgSeries(ai,cyanBands[r]));
    series.push(errSeries(ai,errPts(ampMidRows[r]),depthErr[r]));
    series.push(dotSeries(ai,pts(ampTopRows[r]),GOLD));
    series.push(dotSeries(ai,errPts(ampMidRows[r]).map(q=>[q[0],q[1]]),ORANGE));
    series.push(dotSeries(ai,pts(ampBotRows[r]),GOLD));
    series.push(polySeries(ai,grays[r][c][0],grays[r][c][1],'rgba(70,90,90,0.4)'));
    series.push(polySeries(ai,reds[r][c][0],reds[r][c][1],'rgba(205,60,50,0.38)'));
    series.push(vband(ai,r,ampBlueBand[r],'rgba(40,40,255,0.3)'));
    const ml=[{xAxis:ampBlueDash[r],lineStyle:{color:'#1414FF',width:1.5,type:[10,6]}},hl];
    if(c===1&&magentaDepth[r]!=null) ml.push({yAxis:magentaDepth[r],lineStyle:{color:'#FF22FF',width:1.5,type:[10,6]}});
    series.push(refSeries(ai,ml));
    series.push(lineSeries(ai,fits[r][c],'#000',1.6,6,fits[r][c].length>5));
  }
  {
    const ai=addPanel(r,2);
    series.push(bgSeries(ai,cyanBands[r]));
    series.push(errSeries(ai,errPts(phsMidRows[r]),depthErr[r]));
    series.push(dotSeries(ai,pts(phsTopRows[r]),GOLD));
    series.push(dotSeries(ai,errPts(phsMidRows[r]).map(q=>[q[0],q[1]]),ORANGE));
    series.push(dotSeries(ai,pts(phsBotRows[r]),GOLD));
    series.push(vband(ai,r,phsBlueBand[r],'rgba(40,40,255,0.3)'));
    if(phsGrayBand[r]) series.push(vband(ai,r,phsGrayBand[r],'rgba(90,100,100,0.35)'));
    const ml=[{xAxis:phsDash[r],lineStyle:{color:'#1414FF',width:1.5,type:[10,6]}},hl];
    if(phsSolid[r]!=null) ml.push({xAxis:phsSolid[r],lineStyle:{color:r===0?'#111':'#14147A',width:1.5,type:'solid'}});
    series.push(refSeries(ai,ml));
  }
  {
    const ai=addPanel(r,3);
    series.push(bgSeries(ai,cyanBands[r]));
    const order=[2,1,3,0];
    order.forEach((k,j)=>series.push(lineSeries(ai,zip(profiles[r][k],profDepth[r]),profColors[k],1.3,6+j,false)));
    series.push(refSeries(ai,[hl]));
    legendNames.forEach((t,i)=>graphics.push({type:'text',left:893,top:rowTop[r]+12+20*i,z:100,
      style:{text:t,fill:legendColors[i],font:'14px '+FONT}}));
    statText[r].forEach((t,i)=>graphics.push({type:'text',left:893,top:rowTop[r]+154+20*i,z:100,
      style:{text:t,fill:'#1a1a1a',font:'14px '+FONT}}));
  }
  graphics.push({type:'text',left:16,top:rowTop[r]-2,z:100,style:{text:stations[r],fill:'#000',font:'bold 19px '+FONT}});
}

const chart=echarts.init(document.getElementById('chart'),null,{renderer:'canvas'});
chart.setOption({animation:false,backgroundColor:'#fff',grid:grids,xAxis:xAxes,yAxis:yAxes,series,graphic:graphics});
</script></body></html>
